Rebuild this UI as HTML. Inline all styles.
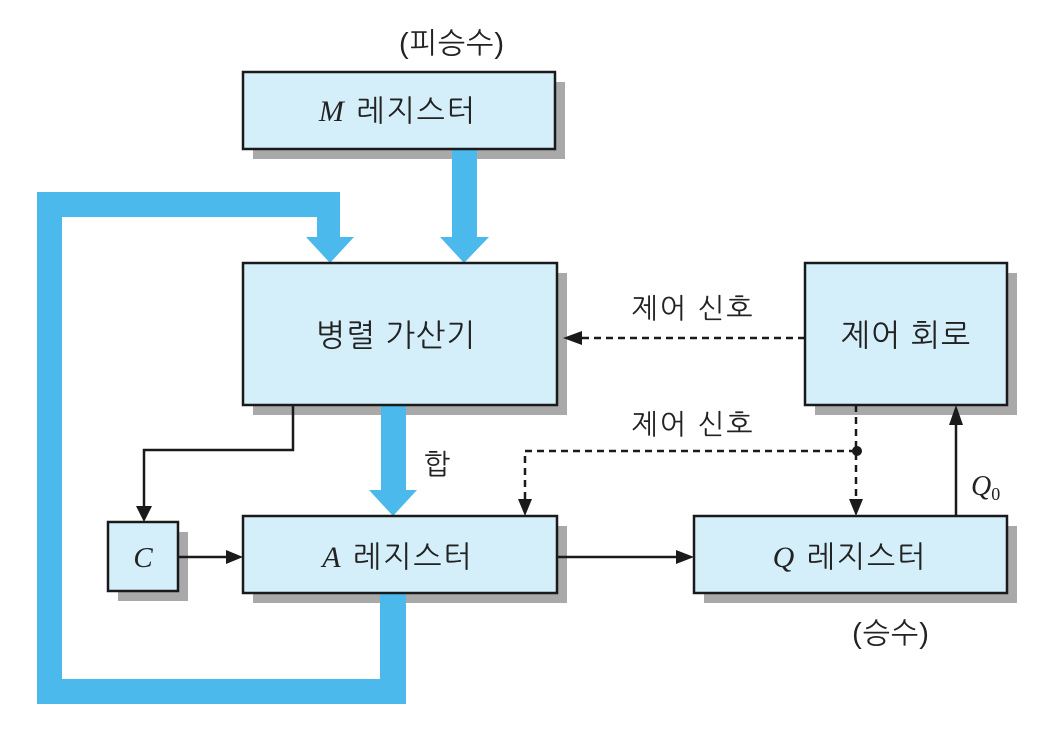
<!DOCTYPE html>
<html><head><meta charset="utf-8"><style>
html,body{margin:0;padding:0;background:#fff;}
svg{display:block;}
text{font-family:"Liberation Sans","NanumGothic","Noto Sans CJK KR",sans-serif;fill:#222;}
.it{font-family:"Liberation Serif",serif;font-style:italic;}
</style></head><body>
<svg width="1064" height="734" viewBox="0 0 1064 734" xmlns="http://www.w3.org/2000/svg">
<g fill="#a9a9a9">
<rect x="253" y="82" width="312" height="77"/>
<rect x="253" y="273" width="314" height="142"/>
<rect x="815" y="273" width="202" height="142"/>
<rect x="118" y="532" width="70" height="69"/>
<rect x="253" y="526" width="314" height="77"/>
<rect x="704" y="526" width="313" height="77"/>
</g>
<g fill="#4cb9ec">
<polygon points="380,593 406,593 406,704 37,704 37,192 340,192 340,237 317,237 317,217 62,217 62,679 380,679"/>
<polygon points="306,237 354,237 330,263"/>
<rect x="452" y="148" width="25" height="90"/>
<polygon points="440,237 489,237 464,263"/>
<rect x="381" y="405" width="25" height="86"/>
<polygon points="369,490 417,490 393,516"/>
</g>
<g fill="#d4eefa" stroke="#1a1a1a" stroke-width="2.5">
<rect x="243" y="72" width="312" height="77"/>
<rect x="243" y="263" width="314" height="142"/>
<rect x="805" y="263" width="202" height="142"/>
<rect x="108" y="522" width="70" height="69"/>
<rect x="243" y="516" width="314" height="77"/>
<rect x="694" y="516" width="313" height="77"/>
</g>
<g stroke="#1a1a1a" stroke-width="2.5" fill="none">
<polyline points="293,405 293,450 144,450 144,506"/>
<line x1="178" y1="557" x2="226" y2="557"/>
<line x1="557" y1="557" x2="676" y2="557"/>
<line x1="956" y1="516" x2="956" y2="425"/>
<g stroke-dasharray="7,5">
<line x1="805" y1="338" x2="582" y2="338"/>
<polyline points="856,405 856,500"/>
<polyline points="856,451 525,451 525,500"/>
</g>
</g>
<g fill="#1a1a1a">
<polygon points="136,506 152,506 144,522"/>
<polygon points="226,550 226,564 243,557"/>
<polygon points="676,550 676,564 694,557"/>
<polygon points="949,425 963,425 956,405"/>
<polygon points="582,331 582,345 563,338"/>
<polygon points="849,499 863,499 856,516"/>
<polygon points="518,499 532,499 525,516"/>
<circle cx="857" cy="451" r="5"/>
</g>
<text x="452" y="53" font-size="29" text-anchor="middle" letter-spacing="1">(피승수)</text>
<text x="398" y="121" font-size="30" text-anchor="middle" letter-spacing="2"><tspan class="it">M</tspan> 레지스터</text>
<text x="396" y="346" font-size="31" text-anchor="middle" letter-spacing="1">병렬 가산기</text>
<text x="906" y="346" font-size="31" text-anchor="middle" letter-spacing="1">제어 회로</text>
<text x="693" y="318" font-size="28" text-anchor="middle" letter-spacing="2">제어 신호</text>
<text x="693" y="434" font-size="28" text-anchor="middle" letter-spacing="2">제어 신호</text>
<text x="437" y="474" font-size="28" text-anchor="middle">합</text>
<text x="143" y="567" font-size="29" text-anchor="middle" class="it">C</text>
<text x="398" y="567" font-size="30" text-anchor="middle" letter-spacing="2"><tspan class="it">A</tspan> 레지스터</text>
<text x="850" y="567" font-size="30" text-anchor="middle" letter-spacing="2"><tspan class="it">Q</tspan> 레지스터</text>
<text x="891" y="643" font-size="29" text-anchor="middle" letter-spacing="1">(승수)</text>
<text x="971" y="495" font-size="28" class="it">Q<tspan font-size="18" dy="5" font-style="normal">0</tspan></text>
</svg>
</body></html>
